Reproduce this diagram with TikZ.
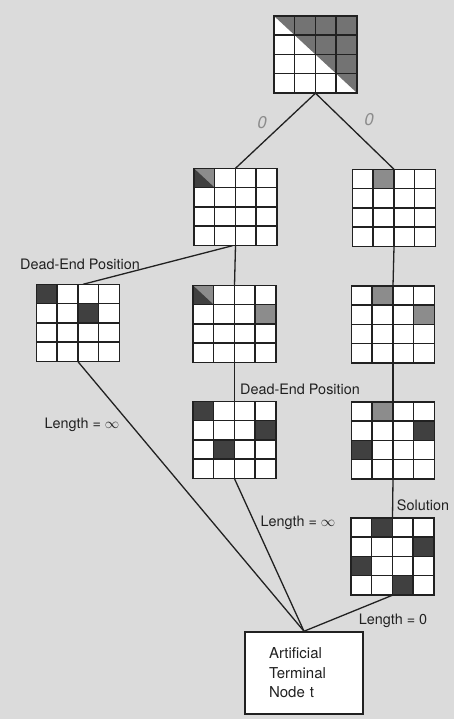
\documentclass[tikz,border=0pt]{standalone}
\usepackage{fontspec}
\setmainfont{TeX Gyre Heros}
\usetikzlibrary{calc}
\definecolor{bg}{gray}{0.86}
\definecolor{ink}{gray}{0.13}
\definecolor{dk}{gray}{0.25}
\definecolor{md}{gray}{0.55}
\definecolor{tri}{gray}{0.45}
\newcommand\bd[2]{%
  \begin{scope}[shift={(#1.north west)},x=20.75pt,y=-19.25pt]
    #2
    \foreach \i in {1,2,3} {\draw[gl] (\i,0) -- (\i,4); \draw[gl] (0,\i) -- (4,\i);}
    \draw[gl] (0,0) rectangle (4,4);
  \end{scope}}
\newcommand\cl[3]{\fill[#3] (#1,#2) rectangle ++(1,1);}
\newcommand\half[2]{\fill[md] (#1,#2) rectangle ++(1,1); \fill[dk] (#1,#2) -- ++(0,1) -- ++(1,0) -- cycle;}
\begin{document}
\begin{tikzpicture}[x=1pt,y=-1pt,
  board/.style={minimum width=83pt,minimum height=77pt,inner sep=0pt,fill=white},
  gl/.style={line width=1.5pt,draw=ink},
  edge/.style={line width=1.3pt,draw=ink},
  lbl/.style={font=\fontsize{14.4}{17}\selectfont,text=ink,inner sep=0pt},
  zero/.style={font=\fontsize{17}{20}\selectfont\itshape,text=black!45,inner sep=0pt},
  tbox/.style={draw=ink,line width=1.5pt,fill=white,minimum width=118pt,minimum height=82pt,
    align=left,text width=70pt,inner sep=0pt,font=\fontsize{15}{19.5}\selectfont,text=ink}]
\fill[bg] (0,0) rectangle (454,719);
\useasboundingbox (0,0) rectangle (454,719);
% boards
\node[board] (g0) at (315.5,54.5) {};
\node[board] (a1) at (235.5,207) {};
\node[board] (b1) at (394,208) {};
\node[board] (dl) at (78,323) {};
\node[board] (a2) at (234.5,324) {};
\node[board] (b2) at (393,324.5) {};
\node[board] (a3) at (234.5,440) {};
\node[board] (b3) at (393,440.5) {};
\node[board] (sol) at (392.5,556.5) {};
\node[tbox] (t) at (304,673) {Artificial\\Terminal\\Node t};
% connectors
\draw[edge] (g0.south) -- (a1.north);
\draw[edge] (g0.south) -- (b1.north);
\draw[edge] (a1.south) -- (a2.north);
\draw[edge] ([xshift=-3pt]a1.south) -- ([xshift=5pt]dl.north);
\draw[edge] (a2.south) -- (a3.north);
\draw[edge] (b1.south) -- (b2.north);
\draw[edge] (b2.south) -- (b3.north);
\draw[edge] (b3.south) -- (sol.north);
\draw[edge] (dl.south) -- (t.north);
\draw[edge] (a3.south) -- (t.north);
\draw[edge] (sol.south) -- (t.north);
% board contents
\bd{g0}{\fill[tri] (0,0) -- (4,0) -- (4,4) -- cycle;}
\bd{a1}{\half{0}{0}}
\bd{b1}{\cl{1}{0}{md}}
\bd{dl}{\cl{0}{0}{dk}\cl{2}{1}{dk}}
\bd{a2}{\half{0}{0}\cl{3}{1}{md}}
\bd{b2}{\cl{1}{0}{md}\cl{3}{1}{md}}
\bd{a3}{\cl{0}{0}{dk}\cl{3}{1}{dk}\cl{1}{2}{dk}}
\bd{b3}{\cl{1}{0}{md}\cl{3}{1}{dk}\cl{0}{2}{dk}}
\bd{sol}{\cl{1}{0}{dk}\cl{3}{1}{dk}\cl{0}{2}{dk}\cl{2}{3}{dk}}
% labels
\node[zero] (z1) at (262,123) {0};
\node[zero] (z2) at (369,120) {0};
\node[lbl] (d1) at (80,264) {Dead-End Position};
\node[lbl] (d2) at (300,389) {Dead-End Position};
\node[lbl] (l1) at (82,425) {Length = $\infty$};
\node[lbl] (l2) at (298,523) {Length = $\infty$};
\node[lbl] (s1) at (423,505) {Solution};
\node[lbl] (l3) at (393,621) {Length = 0};
\end{tikzpicture}
\end{document}
